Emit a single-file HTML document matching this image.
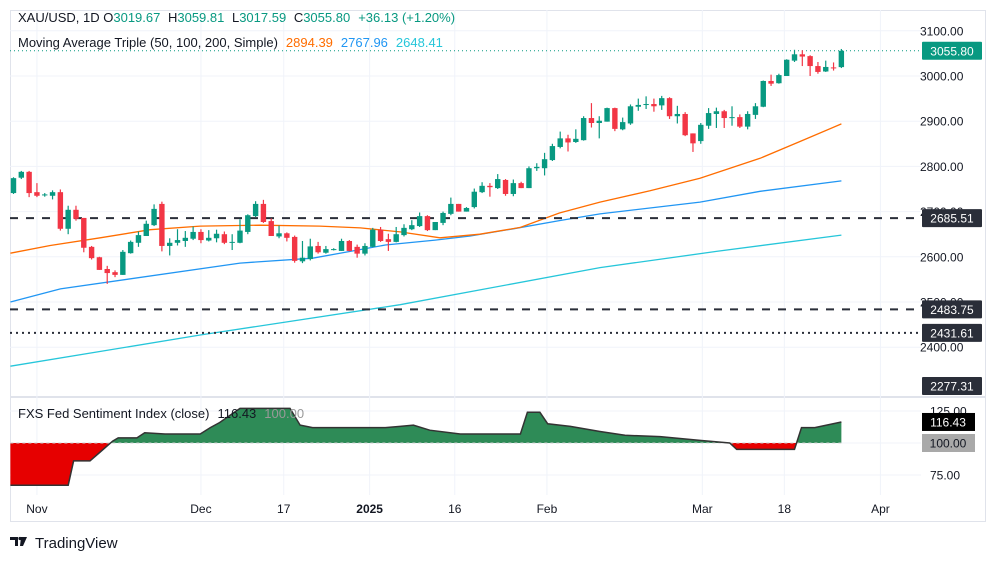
<!DOCTYPE html>
<html><head><meta charset="utf-8"><style>
body{margin:0;background:#fff;width:994px;height:560px;overflow:hidden;font-family:"Liberation Sans",sans-serif}
svg text{font-family:"Liberation Sans",sans-serif}
</style></head><body>
<svg id="c" width="994" height="560" xmlns="http://www.w3.org/2000/svg"></svg>
<script>
const opens=[2741,2775,2788,2743,2736,2735,2743,2662,2704,2686,2622,2599,2573,2566,2560,2608,2631,2646,2670,2717,2624,2631,2635,2640,2655,2636,2641,2650,2633,2631,2655,2690,2717,2679,2645,2652,2644,2590,2595,2624,2609,2616,2613,2635,2622,2607,2622,2660,2639,2633,2648,2661,2668,2690,2659,2675,2695,2717,2700,2710,2743,2757,2752,2770,2739,2763,2752,2796,2796,2814,2843,2862,2854,2858,2907,2896,2899,2929,2882,2895,2932,2936,2938,2935,2951,2911,2916,2873,2856,2890,2916,2922,2907,2909,2888,2914,2932,2989,2984,3000,3034,3048,3044,3022,3010,3019,3019.67];
const closes=[2774,2788,2741,2735,2738,2743,2662,2704,2684,2620,2597,2571,2564,2560,2611,2633,2648,2673,2706,2624,2631,2637,2642,2655,2637,2642,2651,2631,2633,2658,2692,2717,2677,2646,2652,2642,2591,2598,2623,2610,2617,2617,2635,2613,2607,2624,2660,2635,2633,2650,2664,2670,2690,2659,2677,2697,2717,2700,2708,2744,2757,2754,2772,2739,2763,2752,2796,2799,2816,2845,2862,2853,2861,2907,2896,2901,2929,2883,2898,2933,2936,2938,2933,2951,2911,2916,2869,2851,2892,2918,2922,2907,2909,2888,2916,2933,2989,2983,3002,3036,3048,3043,3022,3009,3020,3017,3055.80];
const highs=[2776,2790,2790,2763,2741,2747,2749,2713,2713,2686,2624,2600,2580,2570,2615,2636,2656,2680,2716,2722,2641,2661,2657,2667,2661,2659,2660,2656,2650,2683,2694,2723,2726,2685,2669,2654,2647,2635,2640,2633,2624,2619,2640,2637,2627,2630,2664,2666,2651,2666,2672,2681,2698,2692,2677,2700,2731,2717,2710,2751,2765,2763,2783,2772,2771,2766,2800,2807,2830,2850,2877,2870,2882,2911,2940,2911,2930,2930,2908,2937,2950,2955,2950,2956,2953,2934,2920,2873,2896,2929,2930,2925,2933,2915,2922,2940,2990,3003,3005,3037,3058,3057,3046,3031,3034,3030,3059.81];
const lows=[2739,2772,2732,2732,2733,2727,2658,2650,2680,2610,2594,2571,2540,2555,2560,2607,2622,2646,2668,2612,2603,2625,2622,2637,2630,2634,2632,2628,2615,2630,2650,2688,2675,2646,2641,2634,2587,2586,2592,2607,2607,2614,2613,2612,2598,2603,2621,2633,2613,2632,2645,2659,2666,2657,2659,2670,2692,2700,2700,2707,2741,2733,2750,2735,2734,2752,2752,2790,2780,2812,2840,2833,2852,2857,2886,2862,2899,2878,2880,2892,2923,2927,2921,2925,2905,2895,2867,2832,2850,2883,2885,2885,2890,2885,2882,2905,2931,2978,2983,3000,3031,3022,3000,3005,3009,3012,3017.59];
const ma50Idx=[-0.4,4.7,11.1,17.5,23.9,31.6,39.2,44.4,49.5,54.6,59.7,64.9,69.9,75.1,81.5,87.9,95.6,100.7,106];
const ma50Val=[2608,2625,2642,2660,2668,2670,2668,2664,2655,2642,2650,2665,2697,2721,2746,2774,2818,2855,2894];
const ma100Idx=[-0.4,6,29,38.3,47.6,54,58.5,64,69.9,75.1,87.9,95.6,106];
const ma100Val=[2500,2529,2586,2597,2626,2637,2646,2662,2680,2695,2721,2745,2768];
const ma200Idx=[-0.4,23.9,49.5,75.1,90,106];
const ma200Val=[2358,2427,2494,2576,2612,2648];
const sentIdx=[-0.4,7,7.7,9.8,11.1,12.7,13.4,15.8,16.8,19.4,23.9,25.2,26.4,29,35.4,36.7,38.3,47.6,49.5,51.2,53.3,57.2,64.9,65.8,67.4,68.4,71.3,75.1,78.3,82.8,87.9,91.7,92.6,100,100.9,102.6,106];
const sentVal=[67,67,86,86,93,101.5,104,104,108,107,107,112,116,127,127,114,112,112,113,114,110,107,107,124,124,115,113,109,106,105,102,100,95,95,112,112,116.43];
const priceTicks=[3100,3000,2900,2800,2600,2400];
const sentTicks=[125,75];
const dateTickIdx=[3,24,34.6,45.6,56.5,68.3,88.2,98.7,111];
const dateTickLabels=["Nov","Dec","17","2025","16","Feb","Mar","18","Apr"];
const hLines=[{v:2685.51,dash:"8,8",w:2},{v:2483.75,dash:"8,8",w:2},{v:2431.61,dash:"2,4",w:2}];

const svg=document.getElementById('c');
const NS="http://www.w3.org/2000/svg";
const X=i=>13.5+i*7.81;
const Y=p=>76+(3000-p)*0.452;
const YS=v=>443-(v-100)*1.28;
function el(tag,attrs,parent){const e=document.createElementNS(NS,tag);for(const k in attrs)e.setAttribute(k,attrs[k]);(parent||svg).appendChild(e);return e;}
function txt(x,y,s,attrs){const t=el('text',Object.assign({x:x,y:y},attrs||{}));t.textContent=s;return t;}

// frame
let f=el('rect',{x:10.5,y:10.5,width:975,height:511,fill:'none',stroke:'#e0e3eb'});


let sep=el('line',{x1:10,x2:986,y1:397,y2:397,stroke:'#e0e3eb',"stroke-width":2});



// grid
priceTicks.concat([2700,2500]).forEach(p=>{const g=el('line',{x1:10,x2:921,y1:Y(p),y2:Y(p),stroke:'#f0f3fa'});

});
[125,100,75].forEach(v=>{const g=el('line',{x1:10,x2:921,y1:YS(v),y2:YS(v),stroke:'#f0f3fa'});

});
dateTickIdx.forEach(i=>{const g=el('line',{x1:X(i),x2:X(i),y1:10,y2:495,stroke:'#f0f3fa'});

});

// price axis labels
priceTicks.forEach(p=>{const t=txt(920,Y(p)+4.5,p.toFixed(2),{"font-size":12,fill:'#131722'});

});
[2700,2500].forEach(p=>{const t=txt(920,Y(p)+4.5,p.toFixed(2),{"font-size":12,fill:'#131722'});

});
sentTicks.forEach(v=>{const t=txt(930,YS(v)+4.5,v.toFixed(2),{"font-size":12,fill:'#131722'});

});
dateTickIdx.forEach((i,k)=>{const t=txt(X(i),513,dateTickLabels[k],{"font-size":12,fill:'#131722',"text-anchor":'middle',"font-weight":dateTickLabels[k]==='2025'?'bold':'normal'});

});

// MAs
function line(idx,val,color,name){const d=idx.map((i,k)=>(k?'L':'M')+Math.max(10,X(i)).toFixed(1)+','+Y(val[k]).toFixed(1)).join('');
const p=el('path',{d:d,fill:'none',stroke:color,"stroke-width":1.3});

}
line(ma200Idx,ma200Val,'#26c6da','ma200-line');
line(ma100Idx,ma100Val,'#2196f3','ma100-line');
line(ma50Idx,ma50Val,'#ff6d00','ma50-line');

// horizontal levels
hLines.forEach(h=>{const l=el('line',{x1:10,x2:921,y1:Y(h.v),y2:Y(h.v),stroke:'#2a2e39',"stroke-width":h.w,"stroke-dasharray":h.dash});

});
const last=closes[closes.length-1];
let ll=el('line',{x1:10,x2:921,y1:Y(last),y2:Y(last),stroke:'#089981',"stroke-dasharray":'1,3'});



// candles
for(let i=0;i<opens.length;i++){
 const up=closes[i]>=opens[i],c=up?'#089981':'#f23645',x=X(i);
 const g=el('g',{});
 
 
 el('line',{x1:x,x2:x,y1:Y(highs[i]),y2:Y(lows[i]),stroke:c,"stroke-width":1.2},g);
 const t=Y(Math.max(opens[i],closes[i])),b=Y(Math.min(opens[i],closes[i]));
 el('rect',{x:x-2.7,y:t,width:5.4,height:Math.max(1,b-t),fill:c},g);
}

// price label boxes
function box(v,y,bg,fg,name){const g=el('g',{});


el('rect',{x:922,y:y-9,width:60,height:18,fill:bg,rx:1},g);
const t=txt(952,y+4.5,v,{"font-size":12,fill:fg,"text-anchor":'middle'});g.appendChild(t);}
box(last.toFixed(2),Y(last),'#089981','#fff','last-price-label');
hLines.forEach(h=>box(h.v.toFixed(2),Y(h.v),'#2a2e39','#fff','level-price-label'));
box('2277.31',386,'#2a2e39','#fff','level-price-label');

// sentiment area
const defs=el('defs',{});
const cpA=el('clipPath',{id:'above'},defs);el('rect',{x:0,y:0,width:994,height:YS(100)},cpA);
const cpB=el('clipPath',{id:'below'},defs);el('rect',{x:0,y:YS(100),width:994,height:200},cpB);
const pts=sentIdx.map((i,k)=>Math.max(10,X(i)).toFixed(1)+','+YS(sentVal[k]).toFixed(1));
const x0=Math.max(10,X(sentIdx[0])),x1=X(sentIdx[sentIdx.length-1]);
const area='M'+x0+','+YS(100)+'L'+pts.join('L')+'L'+x1+','+YS(100)+'Z';
let ga=el('path',{d:area,fill:'#2e8b57',"clip-path":'url(#above)'});


let ra=el('path',{d:area,fill:'#e60000',"clip-path":'url(#below)'});


let bl=el('line',{x1:x0,x2:x1,y1:YS(100),y2:YS(100),stroke:'#ccc',"stroke-dasharray":'3,3'});


let sl=el('path',{d:'M'+pts.join('L'),fill:'none',stroke:'#333',"stroke-width":1.5});


function sbox(v,y,bg,fg,name){const g=el('g',{});


el('rect',{x:922,y:y-9,width:53,height:18,fill:bg},g);
const t=txt(948,y+4.5,v,{"font-size":12,fill:fg,"text-anchor":'middle'});g.appendChild(t);}
sbox(sentVal[sentVal.length-1].toFixed(2),YS(sentVal[sentVal.length-1]),'#000','#fff','sentiment-last-label');
sbox('100.00',YS(100),'#a9a9a9','#131722','sentiment-baseline-label');

// legends
function legend(y,parts,name){const t=el('text',{x:18,y:y,"font-size":13,fill:'#131722'});


parts.forEach(p=>{const s=el('tspan',{fill:p[1]},t);if(p[2])s.setAttribute('dx',p[2]);s.textContent=p[0];});}
legend(22,[["XAU/USD, 1D  O",'#131722'],["3019.67",'#089981'],[" H",'#131722',4],["3059.81",'#089981'],[" L",'#131722',4],["3017.59",'#089981'],[" C",'#131722',4],["3055.80",'#089981'],["+36.13 (+1.20%)",'#089981',8]],'price-legend');
legend(47,[["Moving Average Triple (50, 100, 200, Simple)",'#131722'],["2894.39",'#ff6d00',8],["2767.96",'#2196f3',8],["2648.41",'#26c6da',8]],'ma-legend');
legend(418,[["FXS Fed Sentiment Index (close)",'#131722'],["116.43",'#131722',8],["100.00",'#999',8]],'sentiment-legend');

// logo
const lg=el('g',{});


el('path',{d:'M10,537h8v9h-3v-6h-5z M19,537h3l-1,0z M21,537h6l-4,9h-3z',fill:'#131722'},lg);
el('circle',{cx:20,cy:538.5,r:1.6,fill:'#131722'},lg);
const lt=txt(35,548,'TradingView',{"font-size":15,fill:'#131722'});lg.appendChild(lt);
</script>
</body></html>
